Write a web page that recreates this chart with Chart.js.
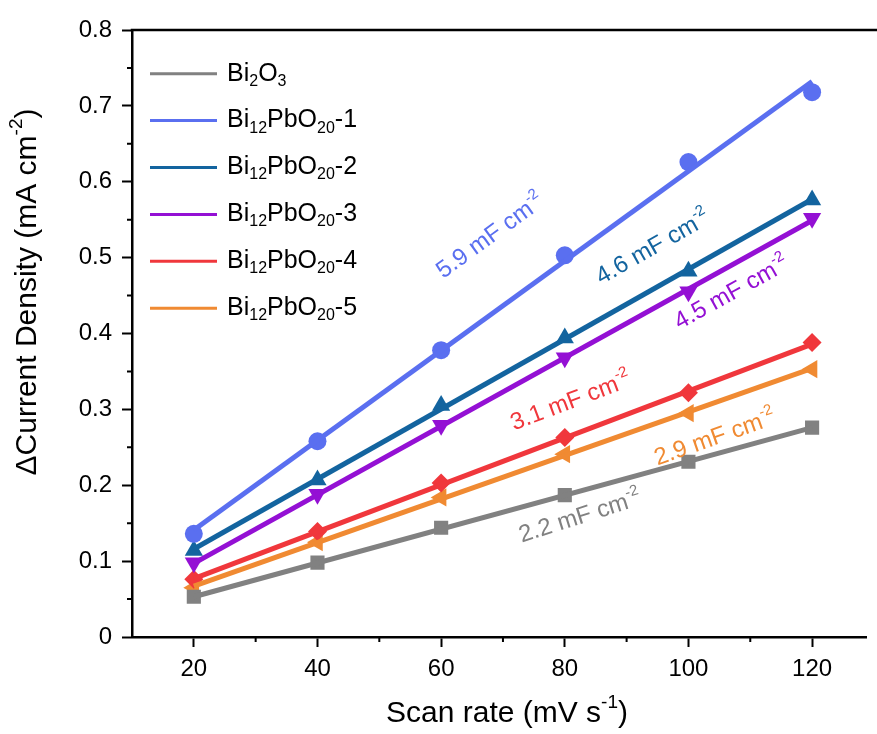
<!DOCTYPE html>
<html>
<head>
<meta charset="utf-8">
<script src="https://cdn.jsdelivr.net/npm/chart.js"></script>
<style>
  html, body { margin: 0; padding: 0; background: #fff; overflow: hidden; }
  #wrap { width: 877px; height: 734px; }
</style>
</head>
<body>
<div id="wrap"><canvas id="cdlChart"></canvas></div>
<script>
// scan rates (mV s-1)
const scanRates = [20, 40, 60, 80, 100, 120];

// delta current density (mA cm-2)
const bi2o3 = [0.053, 0.098, 0.144, 0.187, 0.231, 0.276];
const pbo1 = [0.136, 0.258, 0.378, 0.503, 0.626, 0.718];
const pbo2 = [0.114, 0.207, 0.305, 0.394, 0.482, 0.576];
const pbo3 = [0.098, 0.188, 0.279, 0.368, 0.455, 0.552];
const pbo4 = [0.076, 0.139, 0.203, 0.263, 0.322, 0.388];
const pbo5 = [0.065, 0.125, 0.184, 0.241, 0.295, 0.353];

// linear fit lines, value at 20 and at 120 mV s-1
const fitStart = [0.053, 0.141, 0.116, 0.097, 0.077, 0.067];
const fitEnd = [0.276, 0.732, 0.577, 0.549, 0.386, 0.354];

const seriesLabels = ['Bi_2O_3', 'Bi_12PbO_20-1', 'Bi_12PbO_20-2', 'Bi_12PbO_20-3', 'Bi_12PbO_20-4', 'Bi_12PbO_20-5'];
const capacitance = ['2.2', '5.9', '4.6', '4.5', '3.1', '2.9'];

const xTicks = [20, 40, 60, 80, 100, 120];
const xMinorTicks = [30, 50, 70, 90, 110];
const yTicks = [0, 0.1, 0.2, 0.3, 0.4, 0.5, 0.6, 0.7, 0.8];
const yMinorTicks = [0.05, 0.15, 0.25, 0.35, 0.45, 0.55, 0.65, 0.75];

const allSeries = [bi2o3, pbo1, pbo2, pbo3, pbo4, pbo5];

// styles
const colors = ['#818181', '#5a6ff0', '#13649f', '#9410d4', '#f0373c', '#f08a32'];
const markers = [
    { style: 'rect', rotation: 0, radius: 10 },
    { style: 'circle', rotation: 0, radius: 9 },
    { style: 'triangle', rotation: 0, radius: 10.5 },
    { style: 'triangle', rotation: 180, radius: 10.5 },
    { style: 'rectRot', rotation: 0, radius: 9.5 },
    { style: 'triangle', rotation: -90, radius: 10.5 }
];
// where the slope labels sit (data coords)
const labelAnchors = [
    { x: 82.5, y: 0.158 },
    { x: 68.0, y: 0.528 },
    { x: 94.3, y: 0.513 },
    { x: 107.0, y: 0.453 },
    { x: 81.0, y: 0.310 },
    { x: 104.3, y: 0.262 }
];

const FONT = "'Liberation Sans', Arial, sans-serif";

function parseSub(label) {
    const parts = [];
    label.split(/(_\d+)/).forEach(function(p) {
        if (!p) return;
        if (p[0] === '_') parts.push({ t: p.slice(1), mode: 'sub' });
        else parts.push({ t: p });
    });
    return parts;
}

// draws text with sub/superscripts, anchored left or centered at (x, y)
function drawRich(ctx, parts, size, x, y, align) {
    const small = Math.round(size * 0.64);
    let total = 0;
    parts.forEach(function(p) {
        ctx.font = (p.mode ? small : size) + 'px ' + FONT;
        p.w = ctx.measureText(p.t).width;
        total += p.w;
    });
    let cx = align === 'center' ? x - total / 2 : x;
    ctx.textAlign = 'left';
    ctx.textBaseline = 'middle';
    parts.forEach(function(p) {
        let dy = 0;
        if (p.mode === 'sub') dy = size * 0.3;
        if (p.mode === 'sup') dy = -size * 0.36;
        ctx.font = (p.mode ? small : size) + 'px ' + FONT;
        ctx.fillText(p.t, cx, y + dy);
        cx += p.w;
    });
}

const decorPlugin = {
    id: 'decor',
    afterDraw(chart) {
        const ctx = chart.ctx;
        const area = chart.chartArea;
        const xs = chart.scales.x;
        const ys = chart.scales.y;
        ctx.save();

        // top frame (right side is cut off in the original)
        ctx.strokeStyle = '#000';
        ctx.lineWidth = 2.5;
        ctx.beginPath();
        ctx.moveTo(area.left - 1.25, area.top);
        ctx.lineTo(chart.width, area.top);
        ctx.stroke();

        // minor ticks
        ctx.lineWidth = 2;
        ctx.beginPath();
        xMinorTicks.forEach(function(v) {
            const px = xs.getPixelForValue(v);
            ctx.moveTo(px, area.bottom);
            ctx.lineTo(px, area.bottom + 5);
        });
        yMinorTicks.forEach(function(v) {
            const py = ys.getPixelForValue(v);
            ctx.moveTo(area.left, py);
            ctx.lineTo(area.left - 5, py);
        });
        ctx.stroke();

        // slope labels along each fit line
        capacitance.forEach(function(c, i) {
            const x0 = xs.getPixelForValue(20), y0 = ys.getPixelForValue(fitStart[i]);
            const x1 = xs.getPixelForValue(120), y1 = ys.getPixelForValue(fitEnd[i]);
            const ang = Math.atan2(y1 - y0, x1 - x0) - (i === 0 ? 0.04 : 0);
            ctx.save();
            ctx.translate(xs.getPixelForValue(labelAnchors[i].x), ys.getPixelForValue(labelAnchors[i].y));
            ctx.rotate(ang);
            ctx.fillStyle = colors[i];
            drawRich(ctx, [{ t: c + ' mF cm' }, { t: '-2', mode: 'sup' }], 24, 0, 0, 'center');
            ctx.restore();
        });

        // legend
        seriesLabels.forEach(function(lbl, i) {
            const ly = 73.7 + i * 46.9;
            ctx.strokeStyle = colors[i];
            ctx.lineWidth = 3;
            ctx.beginPath();
            ctx.moveTo(150, ly);
            ctx.lineTo(217, ly);
            ctx.stroke();
            ctx.fillStyle = '#000';
            drawRich(ctx, parseSub(lbl), 25, 227, ly, 'left');
        });

        // axis titles
        ctx.fillStyle = '#000';
        drawRich(ctx, [{ t: 'Scan rate (mV s' }, { t: '-1', mode: 'sup' }, { t: ')' }], 30,
            507, 714, 'center');
        ctx.save();
        ctx.translate(28, 292);
        ctx.rotate(-Math.PI / 2);
        drawRich(ctx, [{ t: '\u0394Current Density (mA cm' }, { t: '-2', mode: 'sup' }, { t: ')' }], 30, 0, 0, 'center');
        ctx.restore();

        ctx.restore();
    }
};

const datasets = [];
allSeries.forEach(function(vals, i) {
    datasets.push({
        label: seriesLabels[i],
        data: scanRates.map(function(x, k) { return { x: x, y: vals[k] }; }),
        showLine: false,
        pointStyle: markers[i].style,
        rotation: markers[i].rotation,
        pointRadius: markers[i].radius,
        pointBackgroundColor: colors[i],
        pointBorderColor: colors[i],
        pointBorderWidth: 0,
        order: 2
    });
    datasets.push({
        label: seriesLabels[i] + ' fit',
        data: [{ x: 20, y: fitStart[i] }, { x: 120, y: fitEnd[i] }],
        showLine: true,
        borderColor: colors[i],
        borderWidth: 5,
        pointRadius: 0,
        order: 1
    });
});

new Chart(document.getElementById('cdlChart'), {
    type: 'scatter',
    data: { datasets: datasets },
    options: {
        responsive: true,
        maintainAspectRatio: false,
        devicePixelRatio: 1,
        animation: false,
        layout: { padding: { top: 30, right: 0, left: 0, bottom: 0 } },
        plugins: {
            legend: { display: false },
            tooltip: { enabled: false }
        },
        scales: {
            x: {
                type: 'linear',
                min: 10,
                max: 128.8,
                afterBuildTicks: function(scale) {
                    scale.ticks = xTicks.map(function(v) { return { value: v }; });
                },
                afterFit: function(scale) {
                    scale.height = 97;
                    scale.paddingRight = 0;
                    scale.paddingLeft = 0;
                },
                ticks: {
                    color: '#000',
                    padding: 8,
                    maxRotation: 0,
                    font: { family: FONT, size: 24 }
                },
                grid: {
                    drawOnChartArea: false,
                    tickLength: 10,
                    tickWidth: 2,
                    tickColor: '#000'
                },
                border: { display: true, color: '#000', width: 2.5 }
            },
            y: {
                type: 'linear',
                min: 0,
                max: 0.8,
                afterBuildTicks: function(scale) {
                    scale.ticks = yTicks.map(function(v) { return { value: v }; });
                },
                afterFit: function(scale) { scale.width = 132; },
                ticks: {
                    color: '#000',
                    padding: 10,
                    font: { family: FONT, size: 24 },
                    callback: function(v) { return String(Math.round(v * 10) / 10); }
                },
                grid: {
                    drawOnChartArea: false,
                    tickLength: 10,
                    tickWidth: 2,
                    tickColor: '#000'
                },
                border: { display: true, color: '#000', width: 2.5 }
            }
        }
    },
    plugins: [decorPlugin]
});
</script>
</body>
</html>
